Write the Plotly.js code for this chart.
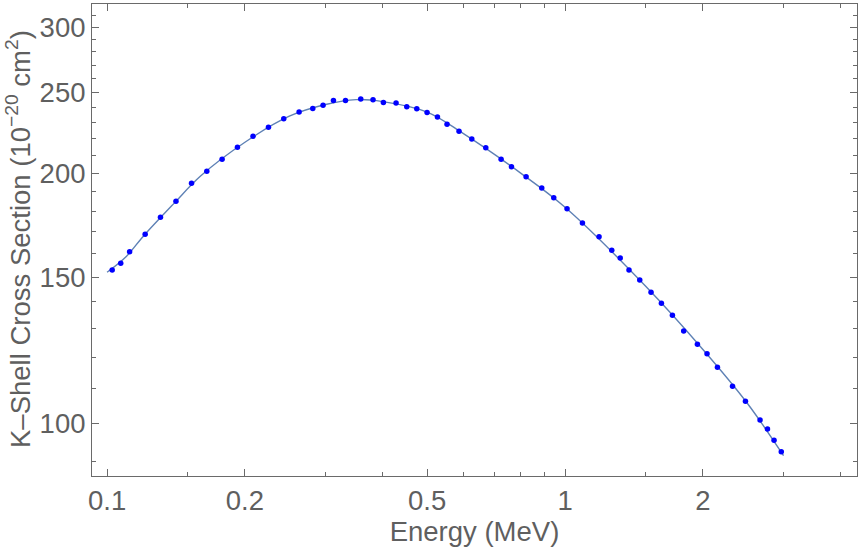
<!DOCTYPE html>
<html>
<head>
<meta charset="utf-8">
<script src="https://cdn.plot.ly/plotly-3.0.1.min.js"></script>
<style>
  html, body { margin: 0; padding: 0; background: #fff; }
  #kshellPlot { width: 862px; height: 552px; }
</style>
</head>
<body>
<div id="kshellPlot"></div>
<script>
// measured points (energy in MeV, cross section in 1e-20 cm^2)
var energy = [0.1026, 0.1071, 0.1120, 0.1211, 0.1308, 0.1414, 0.1529, 0.1651, 0.1783, 0.1926,
  0.2083, 0.2251, 0.2431, 0.2626, 0.2813, 0.2962, 0.3121, 0.3316, 0.3580, 0.3808,
  0.4012, 0.4276, 0.4512, 0.4745, 0.4997, 0.5265, 0.5525, 0.5868, 0.6257, 0.6713,
  0.7251, 0.7638, 0.8221, 0.8894, 0.9448, 1.0101, 1.0914, 1.1865, 1.2647, 1.3197,
  1.3793, 1.4558, 1.5408, 1.6233, 1.7157, 1.8158, 1.9455, 2.0418, 2.1516, 2.3210,
  2.4770, 2.6655, 2.7669, 2.8600, 2.9659];
var sigma = [153.0, 155.9, 160.9, 168.9, 177.1, 185.1, 194.5, 201.2, 208.0, 214.9,
  221.6, 227.3, 232.6, 237.0, 239.3, 241.6, 244.7, 244.7, 245.7, 245.2,
  243.4, 243.0, 240.5, 239.2, 236.7, 233.7, 229.2, 224.8, 220.0, 214.6,
  208.0, 203.6, 198.1, 192.0, 186.9, 181.3, 174.2, 167.7, 161.6, 158.1,
  153.0, 148.8, 143.8, 139.5, 134.9, 129.2, 124.5, 121.3, 116.8, 110.8,
  106.3, 100.9, 98.4, 95.4, 92.4];

// fitted curve
var fitEnergy = [0.1, 0.11, 0.12, 0.14, 0.16, 0.2, 0.25, 0.3, 0.35, 0.4,
  0.5, 0.6, 0.8, 1.0, 1.5, 2.0, 2.5, 3.0];
var fitSigma = [152.0, 158.7, 168.0, 184.0, 198.5, 218.0, 234.3, 242.0, 245.3, 244.0,
  237.0, 223.2, 200.1, 182.0, 146.2, 122.7, 105.7, 91.4];

// axis ticks
var xMajor = [0.1, 0.2, 0.5, 1, 2];
var xMajorText = ['0.1', '0.2', '0.5', '1', '2'];
var xMinor = [0.15, 0.3, 0.4, 0.6, 0.7, 0.8, 0.9, 1.5, 3, 4];
var yMajor = [100, 150, 200, 250, 300];
var yMajorText = ['100', '150', '200', '250', '300'];
var yMinor = [90, 110, 120, 130, 140, 160, 170, 180, 190, 210, 220, 230, 240, 260, 270, 280, 290, 310];

var xRange = [Math.log10(0.0927), Math.log10(4.34)];
var yRange = [Math.log10(86.4), Math.log10(319.8)];

var frameColor = '#6a6a6a';
var textColor = '#5f5f5f';
var font = 'Liberation Sans, Arial, sans-serif';
var textSize = 27.5;

var fitLine = {
  x: fitEnergy,
  y: fitSigma,
  type: 'scatter',
  mode: 'lines',
  line: { color: '#5E81B5', width: 1.4, shape: 'spline', smoothing: 1 },
  hoverinfo: 'skip'
};

var dataPoints = {
  x: energy,
  y: sigma,
  type: 'scatter',
  mode: 'markers',
  marker: { color: '#0000ff', size: 5.5 }
};

// invisible copy so the minor-tick axes get drawn
var minorHolder = {
  x: energy,
  y: sigma,
  xaxis: 'x2',
  yaxis: 'y2',
  type: 'scatter',
  mode: 'markers',
  marker: { opacity: 0 },
  hoverinfo: 'skip'
};

var layout = {
  width: 862,
  height: 552,
  margin: { l: 92, r: 5, t: 4, b: 76 },
  paper_bgcolor: '#fff',
  plot_bgcolor: '#fff',
  showlegend: false,
  font: { family: font, color: textColor, size: textSize },
  xaxis: {
    type: 'log',
    range: xRange,
    tickmode: 'array',
    tickvals: xMajor,
    ticktext: xMajorText,
    ticks: 'inside',
    ticklen: 7,
    tickwidth: 1,
    tickcolor: frameColor,
    showline: true,
    linecolor: frameColor,
    linewidth: 1,
    mirror: 'ticks',
    showgrid: false,
    zeroline: false,
    tickfont: { size: textSize, color: textColor },
    title: { text: 'Energy (MeV)', font: { size: textSize, color: textColor }, standoff: 4 }
  },
  yaxis: {
    type: 'log',
    range: yRange,
    tickmode: 'array',
    tickvals: yMajor,
    ticktext: yMajorText,
    ticks: 'inside',
    ticklen: 7,
    tickwidth: 1,
    tickcolor: frameColor,
    showline: true,
    linecolor: frameColor,
    linewidth: 1,
    mirror: 'ticks',
    showgrid: false,
    zeroline: false,
    tickfont: { size: textSize, color: textColor }
  },
  xaxis2: {
    type: 'log',
    range: xRange,
    overlaying: 'x',
    anchor: 'y2',
    tickmode: 'array',
    tickvals: xMinor,
    ticks: 'inside',
    ticklen: 4,
    tickwidth: 1,
    tickcolor: frameColor,
    showticklabels: false,
    showline: false,
    mirror: 'ticks',
    showgrid: false,
    zeroline: false
  },
  yaxis2: {
    type: 'log',
    range: yRange,
    overlaying: 'y',
    anchor: 'x2',
    tickmode: 'array',
    tickvals: yMinor,
    ticks: 'inside',
    ticklen: 4,
    tickwidth: 1,
    tickcolor: frameColor,
    showticklabels: false,
    showline: false,
    mirror: 'ticks',
    showgrid: false,
    zeroline: false
  },
  annotations: [{
    text: 'K–Shell Cross Section (10<sup>−20</sup> cm<sup>2</sup>)',
    xref: 'paper', yref: 'paper',
    x: 0, y: 0.5,
    xanchor: 'center', yanchor: 'middle',
    xshift: -74, yshift: 1,
    textangle: -90,
    showarrow: false,
    font: { size: textSize, color: textColor, family: font }
  }]
};

Plotly.newPlot('kshellPlot', [minorHolder, fitLine, dataPoints], layout, {
  staticPlot: true,
  displayModeBar: false
});
</script>
</body>
</html>
